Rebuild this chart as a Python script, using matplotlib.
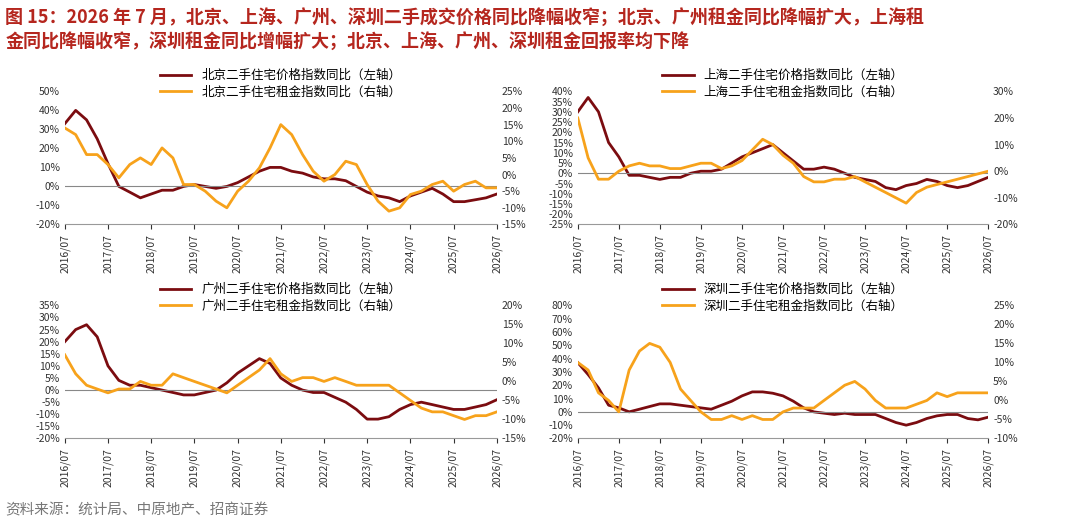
import numpy as np
import pandas as pd
import matplotlib
matplotlib.use('Agg')
import matplotlib.pyplot as plt
from matplotlib.ticker import FuncFormatter

plt.rcParams['font.family'] = ['Noto Sans CJK SC', 'DejaVu Sans']

# quarterly readings, starting 2016/07
bj_price = [33,40,35,25,12,0,-3,-6,-4,-2,-2,0,1,0,-1,0,2,5,8,10,10,8,7,5,4,4,3,0,-3,-5,-6,-8,-5,-3,-1,-4,-8,-8,-7,-6,-4]
bj_rent = [14,12,6,6,3,-1,3,5,3,8,5,-3,-3,-5,-8,-10,-5,-2,2,8,15,12,6,1,-2,0,4,3,-3,-8,-11,-10,-6,-5,-3,-2,-5,-3,-2,-4,-4]
sh_price = [30,37,30,15,8,-1,-1,-2,-3,-2,-2,0,1,1,2,5,8,10,12,14,10,6,2,2,3,2,0,-2,-3,-4,-7,-8,-6,-5,-3,-4,-6,-7,-6,-4,-2]
sh_rent = [20,5,-3,-3,0,2,3,2,2,1,1,2,3,3,1,2,4,8,12,10,6,3,-2,-4,-4,-3,-3,-2,-4,-6,-8,-10,-12,-8,-6,-5,-4,-3,-2,-1,0]
gz_price = [20,25,27,22,10,4,2,2,1,0,-1,-2,-2,-1,0,3,7,10,13,11,5,2,0,-1,-1,-3,-5,-8,-12,-12,-11,-8,-6,-5,-6,-7,-8,-8,-7,-6,-4]
gz_rent = [7,2,-1,-2,-3,-2,-2,0,-1,-1,2,1,0,-1,-2,-3,-1,1,3,6,2,0,1,1,0,1,0,-1,-1,-1,-1,-3,-5,-7,-8,-8,-9,-10,-9,-9,-8]
sz_price = [37,28,18,5,3,0,2,4,6,6,5,4,3,2,5,8,12,15,15,14,12,8,3,0,-1,-2,-1,-2,-2,-2,-5,-8,-10,-8,-5,-3,-2,-2,-5,-6,-4]
sz_rent = [10,8,2,0,-3,8,13,15,14,10,3,0,-3,-5,-5,-4,-5,-4,-5,-5,-3,-2,-2,-2,0,2,4,5,3,0,-2,-2,-2,-1,0,2,1,2,2,2,2]

panels = [
    ('北京二手住宅价格指数同比（左轴）', '北京二手住宅租金指数同比（右轴）', bj_price, bj_rent, (-20, 50, 10), (-15, 25, 5)),
    ('上海二手住宅价格指数同比（左轴）', '上海二手住宅租金指数同比（右轴）', sh_price, sh_rent, (-25, 40, 5), (-20, 30, 10)),
    ('广州二手住宅价格指数同比（左轴）', '广州二手住宅租金指数同比（右轴）', gz_price, gz_rent, (-20, 35, 5), (-15, 20, 5)),
    ('深圳二手住宅价格指数同比（左轴）', '深圳二手住宅租金指数同比（右轴）', sz_price, sz_rent, (-20, 80, 10), (-10, 25, 5)),
]

dark = '#7b0c10'
orange = '#f7a21b'
pct = FuncFormatter(lambda v, p: f'{v:.0f}%')

fig = plt.figure(figsize=(10.8, 5.22), dpi=100)
fig.text(0.005, 0.985, '图 15：2026 年 7 月，北京、上海、广州、深圳二手成交价格同比降幅收窄；北京、广州租金同比降幅扩大，上海租\n金同比降幅收窄，深圳租金同比增幅扩大；北京、上海、广州、深圳租金回报率均下降',
         fontsize=13, fontweight='bold', color='#b5261e', va='top', linespacing=1.3)
fig.text(0.005, 0.015, '资料来源：统计局、中原地产、招商证券', fontsize=10.5, color='#777777')

boxes = [(0.06, 0.57, 0.40, 0.255), (0.535, 0.57, 0.38, 0.255),
         (0.06, 0.16, 0.40, 0.255), (0.535, 0.16, 0.38, 0.255)]

for (lp, lr, price, rent, ll, rl), box in zip(panels, boxes):
    ax = fig.add_axes(box)
    ax2 = ax.twinx()
    d = pd.date_range('2016-07-01', periods=len(price), freq='3MS')
    ax.plot(d, price, color=dark, lw=2, label=lp)
    ax2.plot(d, rent, color=orange, lw=2, label=lr)
    ax.set_ylim(ll[0], ll[1])
    ax.set_yticks(np.arange(ll[0], ll[1] + 0.1, ll[2]))
    ax2.set_ylim(rl[0], rl[1])
    ax2.set_yticks(np.arange(rl[0], rl[1] + 0.1, rl[2]))
    ax.yaxis.set_major_formatter(pct)
    ax2.yaxis.set_major_formatter(pct)
    ax.axhline(0, color='#888888', lw=0.8)
    ticks = pd.date_range('2016-07-01', '2026-07-01', freq='12MS')
    ax.set_xticks(ticks)
    ax.set_xticklabels([t.strftime('%Y/%m') for t in ticks], rotation=90, fontsize=7.5)
    ax.set_xlim(ticks[0], ticks[-1])
    for a in (ax, ax2):
        a.tick_params(axis='y', labelsize=7.5, length=0, colors='#333333')
        for s in a.spines.values():
            s.set_visible(False)
    ax.tick_params(axis='x', colors='#333333')
    ax.spines['bottom'].set_visible(True)
    ax.spines['bottom'].set_color('#999999')
    h1, l1 = ax.get_legend_handles_labels()
    h2, l2 = ax2.get_legend_handles_labels()
    ax.legend(h1 + h2, l1 + l2, loc='lower center', bbox_to_anchor=(0.5, 0.86),
              frameon=False, fontsize=9, handlelength=2.5, labelspacing=0.3)

fig.savefig('out.png')
